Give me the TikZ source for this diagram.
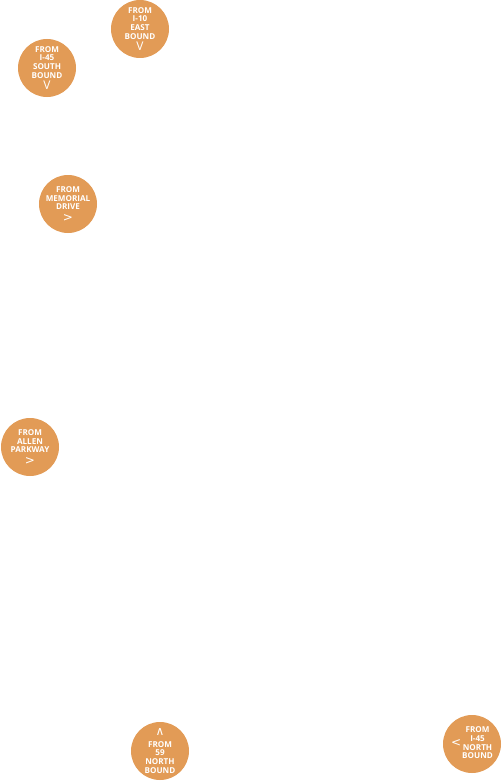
\documentclass[tikz,border=0pt]{standalone}
\usepackage{fontspec}
\setmainfont{Open Sans}
\newfontfamily\chevfont{DejaVu Sans}
\usetikzlibrary{positioning}
\definecolor{exit_orange}{RGB}{226,155,86}

\tikzset{
  exitsign/.style={circle, fill=exit_orange, text=white, minimum size=58pt,
    inner sep=0pt, align=center,
    font=\bfseries\fontsize{8.1}{8.6}\selectfont},
}
\newcommand{\chev}[1]{{\chevfont\mdseries\fontsize{12}{10}\selectfont #1}}

\begin{document}
\begin{tikzpicture}[x=1pt,y=1pt]
  \useasboundingbox (0,0) rectangle (502,-784);
  % Exits from the north
  \node[exitsign] (iTenEast) at (140,-29)
    {FROM\\I-10\\EAST\\BOUND\\[2pt]{\mdseries\fontsize{12}{10}\selectfont V}};
  \node[exitsign] (iFortyFiveSouth) at (47,-68)
    {FROM\\I-45\\SOUTH\\BOUND\\[2pt]{\mdseries\fontsize{12}{10}\selectfont V}};
  % Exits from the west
  \node[exitsign] (memorialDrive) at (68,-204)
    {FROM\\MEMORIAL\\DRIVE\\[3pt]\chev{>}};
  \node[exitsign] (allenParkway) at (30,-447)
    {FROM\\ALLEN\\PARKWAY\\[3pt]\chev{>}};
  % Exits from the south
  \node[exitsign] (fiftyNineNorth) at (160,-751)
    {\chev{∧}\\[3pt]FROM\\59\\NORTH\\BOUND};
  \node[exitsign] (iFortyFiveNorth) at (472,-744)
    {\chev{<}\hspace{1pt}\begin{tabular}[c]{@{}c@{}}FROM\\I-45\\NORTH\\BOUND\end{tabular}};
\end{tikzpicture}
\end{document}
